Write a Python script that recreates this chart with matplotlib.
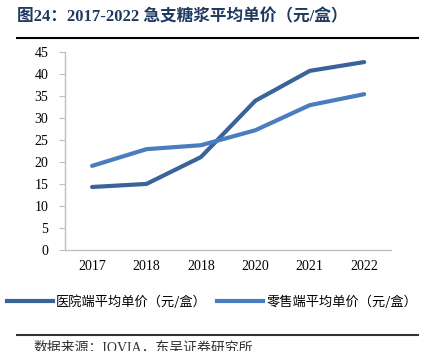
import matplotlib.pyplot as plt
from matplotlib.lines import Line2D

plt.rcParams['font.family'] = ['Liberation Serif', 'Noto Sans CJK SC', 'DejaVu Sans']

years = ['2017', '2018', '2018', '2020', '2021', '2022']
hospital = [14.3, 15.0, 21.1, 33.9, 40.7, 42.7]
retail = [19.1, 22.9, 23.8, 27.2, 32.9, 35.4]
names = ['医院端平均单价（元/盒）', '零售端平均单价（元/盒）']

c_dark = '#3A6499'
c_light = '#4A7DC0'
navy = '#1F3A5F'

fig = plt.figure(figsize=(4.24, 3.51), dpi=100)
ax = fig.add_axes([0.153, 0.288, 0.77, 0.564])

x = range(len(years))
ax.plot(x, hospital, color=c_dark, lw=3, solid_capstyle='round')
ax.plot(x, retail, color=c_light, lw=3, solid_capstyle='round')

ax.set_xlim(-0.5, 5.5)
ax.set_ylim(0, 45)
ax.set_yticks(range(0, 46, 5))
ax.set_xticks(list(x))
ax.set_xticklabels(years)
for s in ['top', 'right']:
    ax.spines[s].set_visible(False)
for s in ['left', 'bottom']:
    ax.spines[s].set_color('#BFBFBF')
    ax.spines[s].set_linewidth(1)
ax.tick_params(axis='y', length=4, color='#BFBFBF', labelsize=10, pad=8)
ax.tick_params(axis='x', length=0, labelsize=10, pad=7)

# title and rules
fig.text(0.04, 0.95, '图24：2017-2022 急支糖浆平均单价（元/盒）', fontsize=12,
         fontweight='bold', color=navy, va='center', ha='left')
fig.add_artist(Line2D([0.04, 0.985], [0.892, 0.892], color='black', lw=1.5))
fig.add_artist(Line2D([0.04, 0.985], [0.046, 0.046], color='#333333', lw=1.5))

# legend
handles = [Line2D([], [], color=c_dark, lw=3), Line2D([], [], color=c_light, lw=3)]
fig.legend(handles, names, loc='center', bbox_to_anchor=(0.5, 0.14), ncol=2,
           frameon=False, handlelength=3.5, handletextpad=0.2, columnspacing=0.8,
           prop={'family': ['Noto Sans CJK SC'], 'size': 9.5})

fig.text(0.08, -0.01, '数据来源：IQVIA，东吴证券研究所', fontsize=10, va='bottom', color='#333333')

fig.savefig('out.png', dpi=100)
